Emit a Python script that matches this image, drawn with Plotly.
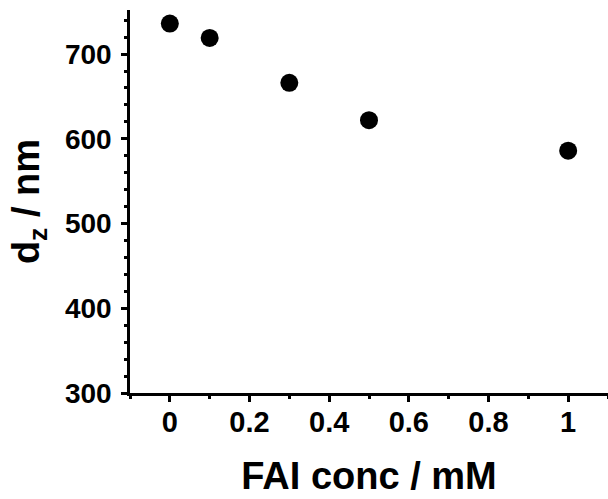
import plotly.graph_objects as go

fai_conc = [0, 0.1, 0.3, 0.5, 1.0]
dz_nm = [736, 719, 666, 622, 586]

x_tick_vals = [0, 0.2, 0.4, 0.6, 0.8, 1]
x_tick_text = ["0", "0.2", "0.4", "0.6", "0.8", "1"]
y_tick_vals = [300, 400, 500, 600, 700]
y_tick_text = ["300", "400", "500", "600", "700"]

FONT = "Liberation Sans, Arial, sans-serif"

fig = go.Figure()
fig.add_trace(go.Scatter(
    x=fai_conc, y=dz_nm, mode="markers",
    marker=dict(size=18, color="black", line=dict(width=0)),
    showlegend=False, hoverinfo="skip",
))

fig.update_layout(
    width=608, height=499,
    margin=dict(l=130, r=0, t=10, b=106),
    paper_bgcolor="white", plot_bgcolor="white",
    font=dict(family=FONT, color="black"),
)

fig.update_xaxes(
    range=[-0.1, 1.1],
    tickvals=x_tick_vals, ticktext=x_tick_text,
    showgrid=False, zeroline=False,
    showline=True, linecolor="black", linewidth=2.5,
    ticks="outside", ticklen=6, tickwidth=2.5, tickcolor="black",
    minor=dict(dtick=0.1, tick0=0, ticks="outside", ticklen=3, tickwidth=2.5, tickcolor="black"),
    tickfont=dict(family=FONT, size=29, weight="bold", color="black"),
    ticklabelstandoff=-5,
    title=dict(text="FAI conc / mM", font=dict(family=FONT, size=38, weight="bold", color="black"), standoff=26),
)

fig.update_yaxes(
    range=[300, 752],
    tickvals=y_tick_vals, ticktext=y_tick_text,
    showgrid=False, zeroline=False,
    showline=True, linecolor="black", linewidth=2.5,
    ticks="outside", ticklen=6, tickwidth=2.5, tickcolor="black",
    minor=dict(dtick=20, tick0=300, ticks="outside", ticklen=3, tickwidth=2.5, tickcolor="black"),
    tickfont=dict(family=FONT, size=28, weight="bold", color="black"),
    ticklabelstandoff=4,
    title=dict(text="d<sub>z</sub> / nm", font=dict(family=FONT, size=38, weight="bold", color="black"), standoff=14),
)

fig.write_html("out.html", config={"displayModeBar": False})

# remove the default page margin so the figure sits at the window's top-left corner
with open("out.html", "r", encoding="utf-8") as f:
    html = f.read()
html = html.replace("<head>", "<head><style>html,body{margin:0;padding:0;overflow:hidden;}</style>", 1)
with open("out.html", "w", encoding="utf-8") as f:
    f.write(html)
